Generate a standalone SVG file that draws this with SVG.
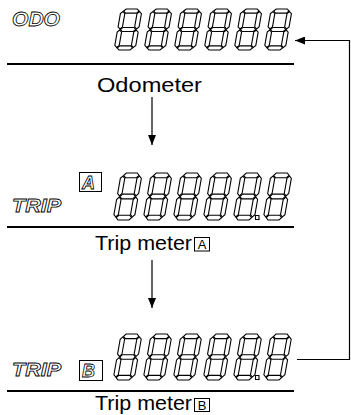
<svg xmlns="http://www.w3.org/2000/svg" width="351" height="415" viewBox="0 0 351 415">
<style>
.seg{fill:#fff;stroke:#000;stroke-width:1.1;stroke-linejoin:miter;vector-effect:non-scaling-stroke}
.olt{font-family:"Liberation Sans",Arial,sans-serif;font-weight:bold;font-style:italic;fill:#fff;stroke:#000;stroke-width:0.8}
.lbl{font-family:"Liberation Sans",Arial,sans-serif;font-size:20px;fill:#000}
.sml{font-family:"Liberation Sans",Arial,sans-serif;font-size:13px;fill:#000}
.rule{stroke:#000;stroke-width:2}
.box{fill:#fff;stroke:#000;stroke-width:1}
.con{fill:none;stroke:#000;stroke-width:1.2}
</style>
<defs>
<g id="digit">
<polygon class="seg" points="2.8,2.2 5,0 16,0 18.2,2.2 16,4.4 5,4.4"/>
<polygon class="seg" points="2.8,22 5,19.8 16,19.8 18.2,22 16,24.2 5,24.2"/>
<polygon class="seg" points="2.8,41.8 5,39.6 16,39.6 18.2,41.8 16,44 5,44"/>
<polygon class="seg" points="2.2,2.8 4.4,5 4.4,19.2 2.2,21.4 0,19.2 0,5"/>
<polygon class="seg" points="2.2,22.6 4.4,24.8 4.4,39 2.2,41.2 0,39 0,24.8"/>
<polygon class="seg" points="18.8,2.8 21,5 21,19.2 18.8,21.4 16.6,19.2 16.6,5"/>
<polygon class="seg" points="18.8,22.6 21,24.8 21,39 18.8,41.2 16.6,39 16.6,24.8"/>
</g>
<marker id="ah" markerWidth="10" markerHeight="8" refX="10" refY="4" orient="auto" markerUnits="userSpaceOnUse">
<path d="M0,0 L10,4 L0,8 Z" fill="#000"/>
</marker>
</defs>

<g id="odometer">
<text class="olt" x="12" y="26" font-size="20" textLength="48" lengthAdjust="spacingAndGlyphs">ODO</text>
<use href="#digit" transform="translate(114,50) skewX(-10) scale(1,0.932) translate(0,-44)"/>
<use href="#digit" transform="translate(144,50) skewX(-10) scale(1,0.932) translate(0,-44)"/>
<use href="#digit" transform="translate(174,50) skewX(-10) scale(1,0.932) translate(0,-44)"/>
<use href="#digit" transform="translate(204,50) skewX(-10) scale(1,0.932) translate(0,-44)"/>
<use href="#digit" transform="translate(234,50) skewX(-10) scale(1,0.932) translate(0,-44)"/>
<use href="#digit" transform="translate(264,50) skewX(-10) scale(1,0.932) translate(0,-44)"/>
<line class="rule" x1="7" y1="64" x2="294" y2="64"/>
<text class="lbl" x="97" y="92" textLength="105" lengthAdjust="spacingAndGlyphs">Odometer</text>
</g>

<g id="trip-a">
<text class="olt" x="12" y="212" font-size="18" textLength="49" lengthAdjust="spacingAndGlyphs">TRIP</text>
<rect class="box" x="79.5" y="172.5" width="22" height="19"/>
<text class="olt" x="82" y="189" font-size="18">A</text>
<use href="#digit" transform="translate(113,220) skewX(-10) scale(1,1.068) translate(0,-44)"/>
<use href="#digit" transform="translate(143,220) skewX(-10) scale(1,1.068) translate(0,-44)"/>
<use href="#digit" transform="translate(173,220) skewX(-10) scale(1,1.068) translate(0,-44)"/>
<use href="#digit" transform="translate(203,220) skewX(-10) scale(1,1.068) translate(0,-44)"/>
<use href="#digit" transform="translate(233,220) skewX(-10) scale(1,1.068) translate(0,-44)"/>
<use href="#digit" transform="translate(263,220) skewX(-10) scale(1,1.068) translate(0,-44)"/>
<rect class="seg" x="255.5" y="215.5" width="3.5" height="4"/>
<line class="rule" x1="7" y1="227" x2="294" y2="227"/>
<text class="lbl" x="95" y="250" textLength="97" lengthAdjust="spacingAndGlyphs">Trip meter</text>
<rect class="box" x="194.5" y="237.5" width="15" height="13.5"/>
<text class="sml" x="202" y="249" text-anchor="middle">A</text>
</g>

<g id="trip-b">
<text class="olt" x="12" y="376" font-size="18" textLength="49" lengthAdjust="spacingAndGlyphs">TRIP</text>
<rect class="box" x="79.5" y="360.5" width="23" height="20"/>
<text class="olt" x="82" y="377" font-size="18">B</text>
<use href="#digit" transform="translate(113,380) skewX(-10) scale(1,1.045) translate(0,-44)"/>
<use href="#digit" transform="translate(143,380) skewX(-10) scale(1,1.045) translate(0,-44)"/>
<use href="#digit" transform="translate(173,380) skewX(-10) scale(1,1.045) translate(0,-44)"/>
<use href="#digit" transform="translate(203,380) skewX(-10) scale(1,1.045) translate(0,-44)"/>
<use href="#digit" transform="translate(233,380) skewX(-10) scale(1,1.045) translate(0,-44)"/>
<use href="#digit" transform="translate(263,380) skewX(-10) scale(1,1.045) translate(0,-44)"/>
<rect class="seg" x="255.5" y="375.5" width="3.5" height="4"/>
<line class="rule" x1="7" y1="391" x2="294" y2="391"/>
<text class="lbl" x="95" y="410" font-size="18" textLength="97" lengthAdjust="spacingAndGlyphs">Trip meter</text>
<rect class="box" x="194.5" y="398.5" width="15" height="13"/>
<text class="sml" x="202" y="410" text-anchor="middle">B</text>
</g>

<g id="connectors">
<line class="con" x1="152" y1="97" x2="152" y2="145" marker-end="url(#ah)"/>
<line class="con" x1="152" y1="260" x2="152" y2="308" marker-end="url(#ah)"/>
<polyline class="con" points="297,359.5 349.5,359.5 349.5,40.5 295,40.5" marker-end="url(#ah)"/>
</g>
</svg>
